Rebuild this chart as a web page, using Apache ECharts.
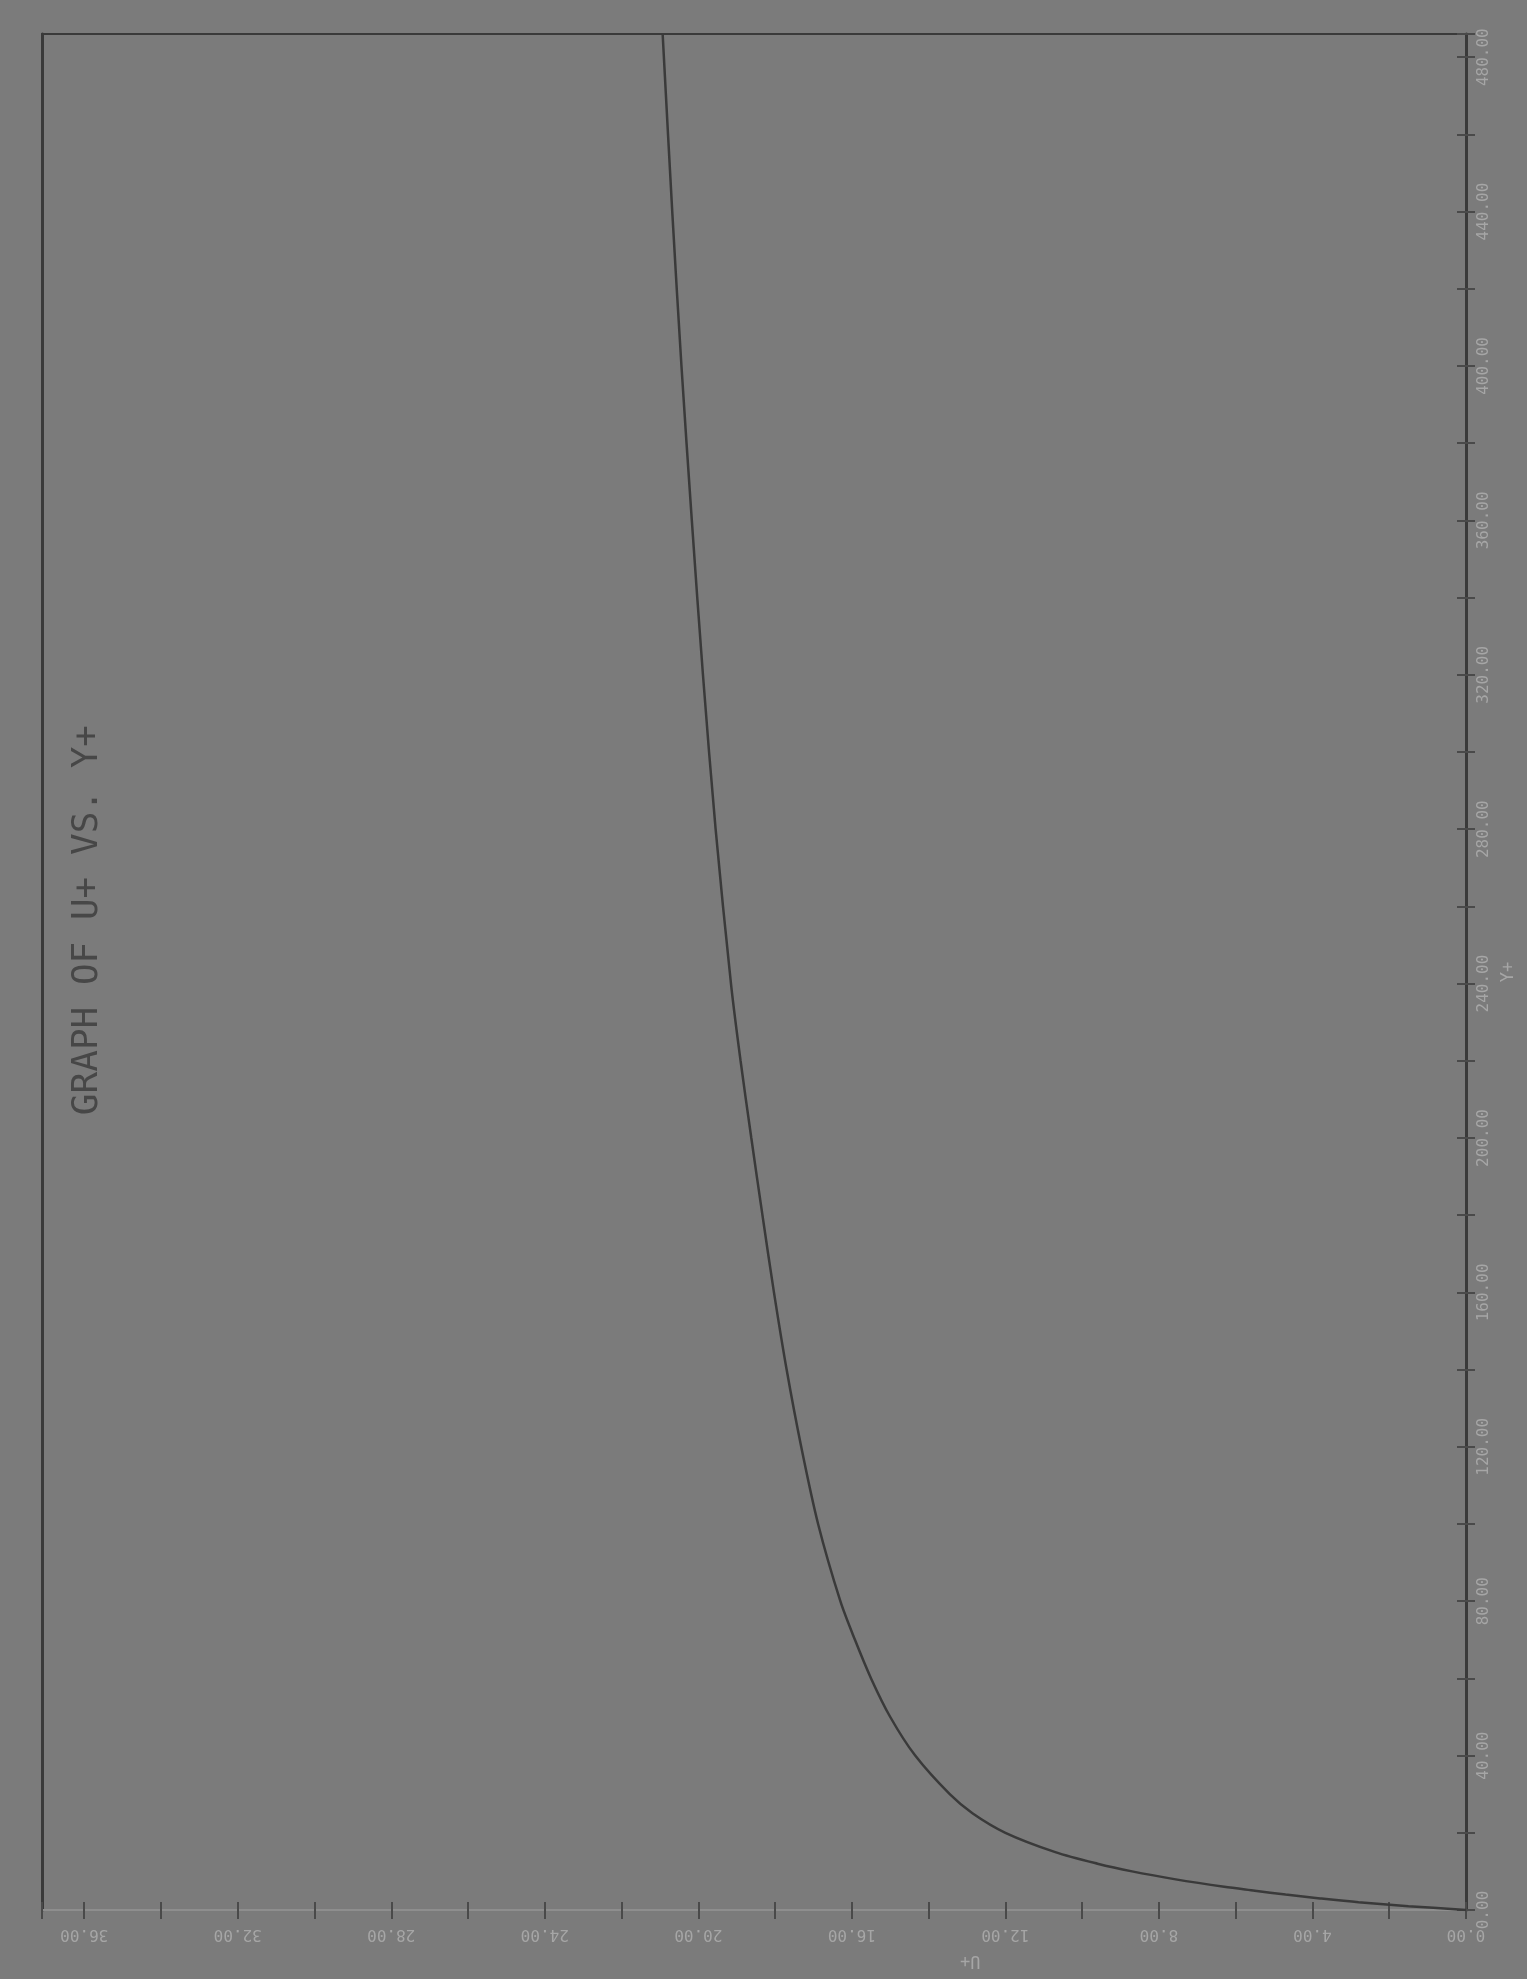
<!DOCTYPE html>
<html>
<head>
<meta charset="utf-8">
<title>GRAPH OF U+ VS. Y+</title>
<script src="https://cdn.jsdelivr.net/npm/echarts@6/dist/echarts.min.js"></script>
<style>
  html, body { margin: 0; padding: 0; background: #7b7b7b; }
  #myChart { width: 1527px; height: 1979px; }
</style>
</head>
<body>
<div id="myChart"></div>
<script>
// values (the page is turned 90 degrees)
var yPlus = [0, 1, 2, 3, 4, 5, 6, 8, 10, 12, 15, 20, 25, 30, 40, 50, 60, 70, 80, 100,
  120, 140, 160, 180, 200, 220, 240, 280, 320, 360, 400, 440, 486];
var uPlus = [0, 1.5, 2.8, 3.8, 4.7, 5.5, 6.3, 7.6, 8.7, 9.6, 10.7, 12.0, 12.85, 13.45, 14.35, 15.0,
  15.5, 15.92, 16.3, 16.88, 17.32, 17.7, 18.03, 18.33, 18.62, 18.9, 19.15, 19.55, 19.88, 20.17, 20.44, 20.68, 20.93];
var uTicks = { min: 0, max: 37.1, step: 2, labelStep: 4 };
var yTicks = { min: 0, max: 486, step: 20, labelStep: 40 };

var bg = '#7b7b7b';
var ink = '#3a3a3a';
var faint = '#a6a6a6';
var mono = 'DejaVu Sans Mono';

var curve = [];
for (var i = 0; i < yPlus.length; i++) {
  curve.push([uPlus[i], yPlus[i]]);
}

function tickLabel(step) {
  return function (v) {
    return Math.abs(v % step) < 1e-6 ? v.toFixed(2) : '';
  };
}

var chart = echarts.init(document.getElementById('myChart'));
chart.setOption({
  backgroundColor: bg,
  animation: false,
  grid: { left: 42, right: 61, top: 34, bottom: 69 },
  xAxis: [
    {
      // U+ axis, runs right to left along the bottom
      type: 'value',
      position: 'bottom',
      inverse: true,
      min: uTicks.min,
      max: uTicks.max,
      interval: uTicks.step,
      axisLine: { show: true, onZero: false, lineStyle: { color: '#8e8e8e', width: 2 } },
      axisTick: { show: true, inside: false, length: 9, lineStyle: { color: '#4a4a4a', width: 2 } },
      axisLabel: {
        rotate: 180,
        margin: 16,
        color: faint,
        fontFamily: mono,
        fontSize: 16,
        formatter: tickLabel(uTicks.labelStep)
      },
      splitLine: { show: false }
    },
    {
      type: 'value',
      position: 'bottom',
      inverse: true,
      min: uTicks.min,
      max: uTicks.max,
      interval: uTicks.step,
      axisLine: { show: false, onZero: false },
      axisTick: { show: true, inside: true, length: 8, lineStyle: { color: '#4a4a4a', width: 2 } },
      axisLabel: { show: false },
      splitLine: { show: false }
    },
    {
      // top frame edge
      type: 'value',
      position: 'top',
      inverse: true,
      min: uTicks.min,
      max: uTicks.max,
      axisLine: { show: true, onZero: false, lineStyle: { color: ink, width: 2 } },
      axisTick: { show: false },
      axisLabel: { show: false },
      splitLine: { show: false }
    }
  ],
  yAxis: [
    {
      // Y+ axis on the right edge
      type: 'value',
      position: 'right',
      min: yTicks.min,
      max: yTicks.max,
      interval: yTicks.step,
      name: 'Y+',
      nameLocation: 'middle',
      nameRotate: 90,
      nameGap: 34,
      nameTextStyle: { color: faint, fontFamily: mono, fontSize: 17 },
      axisLine: { show: true, onZero: false, lineStyle: { color: ink, width: 3 } },
      axisTick: { show: true, inside: false, length: 9, lineStyle: { color: '#4a4a4a', width: 2 } },
      axisLabel: {
        rotate: 90,
        margin: 10,
        color: faint,
        fontFamily: mono,
        fontSize: 16,
        formatter: tickLabel(yTicks.labelStep)
      },
      splitLine: { show: false }
    },
    {
      type: 'value',
      position: 'right',
      min: yTicks.min,
      max: yTicks.max,
      interval: yTicks.step,
      axisLine: { show: false, onZero: false },
      axisTick: { show: true, inside: true, length: 9, lineStyle: { color: '#4a4a4a', width: 2 } },
      axisLabel: { show: false },
      splitLine: { show: false }
    },
    {
      // left frame edge
      type: 'value',
      position: 'left',
      min: yTicks.min,
      max: yTicks.max,
      axisLine: { show: true, onZero: false, lineStyle: { color: ink, width: 3 } },
      axisTick: { show: false },
      axisLabel: { show: false },
      splitLine: { show: false }
    }
  ],
  graphic: [
    {
      type: 'text',
      left: 70,
      top: 725,
      rotation: Math.PI / 2,
      style: {
        text: 'GRAPH OF U+ VS. Y+',
        fill: '#474747',
        font: '36px "DejaVu Sans Mono"'
      }
    },
    {
      type: 'text',
      left: 960,
      top: 1952,
      rotation: Math.PI,
      style: {
        text: 'U+',
        fill: faint,
        font: '17px "DejaVu Sans Mono"'
      }
    }
  ],
  series: [
    {
      type: 'line',
      xAxisIndex: 0,
      yAxisIndex: 0,
      data: curve,
      smooth: 0.3,
      showSymbol: false,
      lineStyle: { color: ink, width: 2.5 }
    }
  ]
});
</script>
</body>
</html>
